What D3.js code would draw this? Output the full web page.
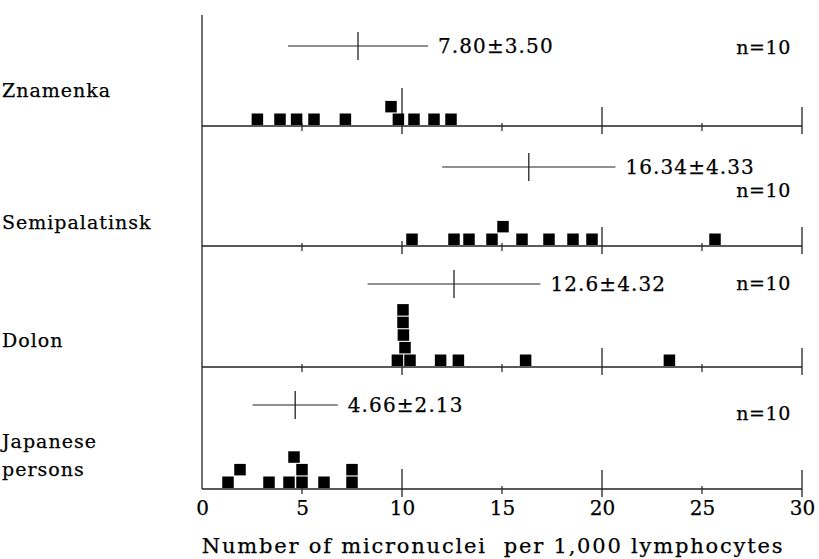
<!doctype html>
<html lang="en">
<head>
<meta charset="UTF-8">
<script src="https://d3js.org/d3.v7.min.js"></script>
<title>Micronuclei per 1,000 lymphocytes</title>
<style>
  body { margin: 0; background: #fff; }
  text { font-family: "DejaVu Serif", serif; fill: #000; stroke: #000; stroke-width: 0.25; }
</style>
</head>
<body>
<div class="container"></div>
<script>
    // group names, summary stats and the single values
    const groups = ["Znamenka", "Semipalatinsk", "Dolon", "Japanese persons"];
    const means = [7.80, 16.34, 12.6, 4.66];
    const sds = [3.50, 4.33, 4.32, 2.13];
    const statLabels = ["7.80\u00b13.50", "16.34\u00b14.33", "12.6\u00b14.32", "4.66\u00b12.13"];
    const nLabels = ["n=10", "n=10", "n=10", "n=10"];

    const znamenkaValues = [2.77, 3.9, 4.73, 5.6, 7.17, 9.45, 9.82, 10.6, 11.6, 12.45];
    const znamenkaStack = [0, 0, 0, 0, 0, 1, 0, 0, 0, 0];
    const semipalatinskValues = [10.5, 12.6, 13.35, 14.5, 15.05, 16.0, 17.35, 18.55, 19.5, 25.65];
    const semipalatinskStack = [0, 0, 0, 0, 1, 0, 0, 0, 0, 0];
    const dolonValues = [9.77, 10.05, 10.05, 10.07, 10.15, 10.4, 11.93, 12.82, 16.18, 23.37];
    const dolonStack = [0, 4, 3, 2, 1, 0, 0, 0, 0, 0];
    const japaneseValues = [1.3, 1.9, 3.35, 4.35, 4.6, 5.0, 5.0, 6.1, 7.5, 7.5];
    const japaneseStack = [0, 1, 0, 0, 2, 1, 0, 0, 0, 1];

    const tickValues = [0, 5, 10, 15, 20, 25, 30];
    const majorTicks = [10, 20, 30];
    const minorTicks = [5, 15, 25];
    const xTitle = "Number of micronuclei\u00a0 per 1,000 lymphocytes";

    const values = [znamenkaValues, semipalatinskValues, dolonValues, japaneseValues];
    const stacks = [znamenkaStack, semipalatinskStack, dolonStack, japaneseStack];

    // layout
    const W = 819, H = 559;
    const baselines = [126, 246, 367, 489];
    const statOffset = [80, 79, 83, 84];
    const nY = [47, 190, 283, 413];
    const tenUp = [38, 5, 0, 20];   // the 10-tick is drawn differently in each panel
    const labelLines = [[90], [222], [340], [441, 469]];
    const sq = 11.5, step = 12.6;

    const x = d3.scaleLinear().domain([0, 30]).range([202, 802]);

    const svg = d3.select(".container").append("svg")
        .attr("width", W).attr("height", H);

    // left axis line
    svg.append("line")
        .attr("x1", x(0)).attr("x2", x(0))
        .attr("y1", 15).attr("y2", baselines[3])
        .attr("stroke", "#222").attr("stroke-width", 1.3);

    groups.forEach(function (g, i) {
        const base = baselines[i];
        const p = svg.append("g");

        // baseline
        p.append("line")
            .attr("x1", x(0)).attr("x2", x(30))
            .attr("y1", base).attr("y2", base)
            .attr("stroke", "#222").attr("stroke-width", 1.3);

        // ticks
        majorTicks.forEach(function (t) {
            const up = t === 10 ? tenUp[i] : 19;
            p.append("line")
                .attr("x1", x(t)).attr("x2", x(t))
                .attr("y1", base - up).attr("y2", base + 8)
                .attr("stroke", "#222").attr("stroke-width", 1.3);
        });
        minorTicks.forEach(function (t) {
            p.append("line")
                .attr("x1", x(t)).attr("x2", x(t))
                .attr("y1", base - 3).attr("y2", base + 5)
                .attr("stroke", "#222").attr("stroke-width", 1.2);
        });

        // squares
        p.selectAll("rect")
            .data(values[i].map(function (v, k) { return { v: v, s: stacks[i][k] }; }))
            .enter().append("rect")
            .attr("x", function (d) { return x(d.v) - sq / 2; })
            .attr("y", function (d) { return base - 1 - sq - d.s * step; })
            .attr("width", sq).attr("height", sq)
            .attr("fill", "#000");

        // mean +- sd
        const sy = base - statOffset[i];
        p.append("line")
            .attr("x1", x(means[i] - sds[i])).attr("x2", x(means[i] + sds[i]))
            .attr("y1", sy).attr("y2", sy)
            .attr("stroke", "#222").attr("stroke-width", 1.2);
        p.append("line")
            .attr("x1", x(means[i])).attr("x2", x(means[i]))
            .attr("y1", sy - 14).attr("y2", sy + 14)
            .attr("stroke", "#222").attr("stroke-width", 1.3);
        p.append("text")
            .attr("x", x(means[i] + sds[i]) + 10)
            .attr("y", sy + 7)
            .attr("font-size", 20)
            .attr("letter-spacing", 1.1)
            .text(statLabels[i]);

        p.append("text")
            .attr("x", 791).attr("y", nY[i] + 7)
            .attr("text-anchor", "end")
            .attr("font-size", 19)
            .attr("letter-spacing", 0.6)
            .text(nLabels[i]);

        // group label
        const words = labelLines[i].length > 1 ? g.split(" ") : [g];
        words.forEach(function (w, k) {
            svg.append("text")
                .attr("x", 2).attr("y", labelLines[i][k] + 7)
                .attr("font-size", 19)
                .attr("letter-spacing", 1)
                .text(w);
        });
    });

    // tick labels via axis
    const axis = d3.axisBottom(x).tickValues(tickValues).tickSize(0).tickPadding(0)
        .tickFormat(d3.format("d"));
    const ax = svg.append("g")
        .attr("transform", "translate(0," + (baselines[3] + 12) + ")")
        .call(axis);
    ax.select(".domain").remove();
    ax.selectAll("text")
        .attr("font-size", 20)
        .attr("font-family", "DejaVu Serif, serif")
        .attr("fill", "#000")
        .attr("dy", "0.71em");

    svg.append("text")
        .attr("x", 493).attr("y", 553)
        .attr("text-anchor", "middle")
        .attr("font-size", 21)
        .attr("letter-spacing", 1.8)
        .text(xTitle);
</script>
</body>
</html>
